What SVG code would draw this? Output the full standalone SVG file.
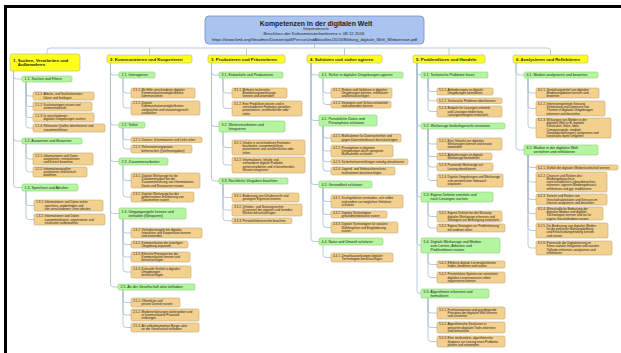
<svg xmlns="http://www.w3.org/2000/svg" width="621" height="353" viewBox="0 0 621 353">
<style>
.h{fill:#ffff1a;stroke:#b8b48c;stroke-width:.6}
.g{fill:#b4f59f;stroke:#8fcf7c;stroke-width:.6}
.l{fill:#f3d08d;stroke:#c2a876;stroke-width:.6}
.t{fill:#a9c4ee;stroke:#6f8fc8;stroke-width:.8}
text{font-family:"Liberation Sans",Arial,sans-serif;fill:#222}
.th{font-size:4.3px;font-weight:bold}
.tg{font-size:3.6px}
.tl{font-size:3.1px}
.tt{font-size:6.9px;font-weight:bold;text-anchor:middle}
.ts{font-size:4.3px;text-anchor:middle}
.c{fill:none;stroke:#a8bcd0;stroke-width:.8}
</style>
<rect width="621" height="353" fill="#fff"/>
<path d="M4,6.5H621M5.5,5V353" stroke="#000" stroke-width="3" fill="none"/>
<g id="connectors">
<path class="c" d="M314.5,44V48M47,55V51q0,-3 3,-3H547.5q3,0 3,3V55M149.5,48V55M246.5,48V55M344.5,48V55M449,48V55"/>
<path class="c" d="M13.5,71V76q0,3 3,3H22M13.5,71V138q0,3 3,3H22M13.5,71V184.5q0,3 3,3H22M26,82V93q0,3 3,3H33M26,82V103.5q0,3 3,3H33M26,82V114.5q0,3 3,3H33M26,82V125q0,3 3,3H33M26,144V156q0,3 3,3H33M26,144V169q0,3 3,3H33M26,191V202.5q0,3 3,3H34M26,191V216.5q0,3 3,3H34"/>
<path class="c" d="M110.5,63V72q0,3 3,3H119M110.5,63V122q0,3 3,3H119M110.5,63V158.5q0,3 3,3H119M110.5,63V210.5q0,3 3,3H119M110.5,63V284q0,3 3,3H118M123,78V90q0,3 3,3H131M123,78V105q0,3 3,3H131M123,128V136.75q0,3 3,3H131M123,128V146q0,3 3,3H131M123,165V177.5q0,3 3,3H131M123,165V194q0,3 3,3H131M123,219V230q0,3 3,3H131M123,219V241.5q0,3 3,3H131M123,219V254q0,3 3,3H131M123,219V269q0,3 3,3H131M123,290V299.5q0,3 3,3H131M123,290V312q0,3 3,3H131M123,290V324.5q0,3 3,3H131"/>
<path class="c" d="M211.5,63V72q0,3 3,3H219M211.5,63V123.5q0,3 3,3H219M211.5,63V178q0,3 3,3H219M223,78V90q0,3 3,3H232M223,78V105.5q0,3 3,3H232M223,132V144.5q0,3 3,3H232M223,132V162q0,3 3,3H232M223,184V194.5q0,3 3,3H232M223,184V207q0,3 3,3H232M223,184V217.75q0,3 3,3H232"/>
<path class="c" d="M311,63V72q0,3 3,3H319M311,63V117.5q0,3 3,3H319M311,63V181.5q0,3 3,3H319M311,63V238.5q0,3 3,3H319M323,78V90q0,3 3,3H331M323,78V101.5q0,3 3,3H331M323,126V135q0,3 3,3H331M323,126V148q0,3 3,3H331M323,126V158.75q0,3 3,3H331M323,126V168q0,3 3,3H331M323,188V198.5q0,3 3,3H331M323,188V211.5q0,3 3,3H331M323,188V224.5q0,3 3,3H331M323,245V254.5q0,3 3,3H331"/>
<path class="c" d="M417,63V72q0,3 3,3H421M417,63V123q0,3 3,3H421M417,63V194q0,3 3,3H421M417,63V242.5q0,3 3,3H421M417,63V290.5q0,3 3,3H421M428,78V88.5q0,3 3,3H437M428,78V97.75q0,3 3,3H437M428,78V108.5q0,3 3,3H437M428,129V141q0,3 3,3H437M428,129V153.5q0,3 3,3H437M428,129V164q0,3 3,3H437M428,129V177.5q0,3 3,3H437M428,202V213.5q0,3 3,3H437M428,202V225q0,3 3,3H437M428,253V261.5q0,3 3,3H437M428,253V274.5q0,3 3,3H437M428,298V310q0,3 3,3H437M428,298V324.5q0,3 3,3H437M428,298V338.5q0,3 3,3H437"/>
<path class="c" d="M516,63V72q0,3 3,3H524M516,63V147q0,3 3,3H524M528,78V90q0,3 3,3H536M528,78V105.5q0,3 3,3H536M528,78V125q0,3 3,3H536M528,155V164.5q0,3 3,3H536M528,155V179q0,3 3,3H536M528,155V196.5q0,3 3,3H536M528,155V210.5q0,3 3,3H536M528,155V227.5q0,3 3,3H536M528,155V245q0,3 3,3H536"/>
</g>
<g id="title">
<rect class="t" x="205" y="16" width="219" height="28" rx="4"/>
<text class="tt" x="316" y="25.5">Kompetenzen in der digitalen Welt</text>
<text x="316" y="30" style="font-size:2.9px;text-anchor:middle">Kompetenzbereiche</text>
<text class="ts" x="314" y="34.6">Beschluss der Kultusministerkonferenz v. 08.12.2016</text>
<text class="ts" x="314.5" y="41">https://www.kmk.org/fileadmin/Dateien/pdf/PresseUndAktuelles/2016/Bildung_digitale_Welt_Webversion.pdf</text>
</g>
<g id="n1"><rect class="h" x="10" y="54" width="70" height="17" rx="2"/><text class="th" y="61.7"><tspan x="13">1. Suchen, Verarbeiten und</tspan><tspan x="17.8" dy="4.6">Aufbewahren</tspan></text></g>
<g id="n1_1"><rect class="g" x="22" y="76" width="50" height="6" rx="1.5"/><text class="tg" x="24.5" y="80.3">1.1. Suchen und Filtern</text></g>
<g id="n1_1_1"><rect class="l" x="33" y="92" width="61" height="8" rx="1.5"/><text class="tl" y="95.45"><tspan x="35">1.1.1. Arbeits- und Suchinteressen</tspan><tspan x="43.6" dy="3.3">klären und festlegen</tspan></text></g>
<g id="n1_1_2"><rect class="l" x="33" y="102" width="59" height="9" rx="1.5"/><text class="tl" y="105.95"><tspan x="35">1.1.2. Suchstrategien nutzen und</tspan><tspan x="43.6" dy="3.3">weiterentwickeln</tspan></text></g>
<g id="n1_1_3"><rect class="l" x="33" y="113" width="61" height="9" rx="1.5"/><text class="tl" y="116.95"><tspan x="35">1.1.3. In verschiedenen</tspan><tspan x="43.6" dy="3.3">digitalen Umgebungen suchen</tspan></text></g>
<g id="n1_1_4"><rect class="l" x="33" y="124" width="72" height="8" rx="1.5"/><text class="tl" y="127.45"><tspan x="35">1.1.4. Relevante Quellen identifizieren und</tspan><tspan x="43.6" dy="3.3">zusammenführen</tspan></text></g>
<g id="n1_2"><rect class="g" x="22" y="138" width="60" height="6" rx="1.5"/><text class="tg" x="24.5" y="142.3">1.2. Auswerten und Bewerten</text></g>
<g id="n1_2_1"><rect class="l" x="33" y="153" width="60" height="12" rx="1.5"/><text class="tl" y="156.8"><tspan x="35">1.2.1. Informationen und Daten</tspan><tspan x="43.6" dy="3.3">analysieren, interpretieren</tspan><tspan x="43.6" dy="3.3">und kritisch bewerten</tspan></text></g>
<g id="n1_2_2"><rect class="l" x="33" y="167" width="54" height="10" rx="1.5"/><text class="tl" y="169.8"><tspan x="35">1.2.2. Informationsquellen</tspan><tspan x="43.6" dy="3.3">analysieren und kritisch</tspan><tspan x="43.6" dy="3.3">bewerten</tspan></text></g>
<g id="n1_3"><rect class="g" x="22" y="184" width="56" height="7" rx="1.5"/><text class="tg" x="24.5" y="188.8">1.3. Speichern und Abrufen</text></g>
<g id="n1_3_1"><rect class="l" x="34" y="200" width="69" height="11" rx="1.5"/><text class="tl" y="203.3"><tspan x="36">1.3.1. Informationen und Daten sicher</tspan><tspan x="44.6" dy="3.3">speichern, wiederfinden und</tspan><tspan x="44.6" dy="3.3">von verschiedenen Orten abrufen</tspan></text></g>
<g id="n1_3_2"><rect class="l" x="34" y="214" width="71" height="11" rx="1.5"/><text class="tl" y="217.3"><tspan x="36">1.3.2. Informationen und Daten</tspan><tspan x="44.6" dy="3.3">zusammenfassen, organisieren und</tspan><tspan x="44.6" dy="3.3">strukturiert aufbewahren</tspan></text></g>

<g id="n2"><rect class="h" x="107" y="55" width="85" height="8" rx="2"/><text class="th" x="110" y="60.5">2. Kommunizieren und Kooperieren</text></g>
<g id="n2_1"><rect class="g" x="119" y="72" width="36" height="6" rx="1.5"/><text class="tg" x="121.5" y="76.3">2.1. Interagieren</text></g>
<g id="n2_1_1"><rect class="l" x="131" y="88" width="64" height="10" rx="1.5"/><text class="tl" y="90.8"><tspan x="133">2.1.1. Mit Hilfe verschiedener digitaler</tspan><tspan x="141.6" dy="3.3">Kommunikationsmöglichkeiten</tspan><tspan x="141.6" dy="3.3">kommunizieren</tspan></text></g>
<g id="n2_1_2"><rect class="l" x="131" y="101" width="69" height="14" rx="1.5"/><text class="tl" y="104.15"><tspan x="133">2.1.2. Digitale</tspan><tspan x="141.6" dy="3.3">Kommunikationsmöglichkeiten</tspan><tspan x="141.6" dy="3.3">zielgerichtet und situationsgerecht</tspan><tspan x="141.6" dy="3.3">auswählen</tspan></text></g>
<g id="n2_2"><rect class="g" x="119" y="122" width="26" height="6" rx="1.5"/><text class="tg" x="121.5" y="126.3">2.2. Teilen</text></g>
<g id="n2_2_1"><rect class="l" x="131" y="137" width="71" height="5.5" rx="1.5"/><text class="tl" x="133" y="140.85">2.2.1. Dateien, Informationen und Links teilen</text></g>
<g id="n2_2_2"><rect class="l" x="131" y="145" width="61" height="8" rx="1.5"/><text class="tl" y="148.45"><tspan x="133">2.2.2. Referenzierungspraxis</tspan><tspan x="141.6" dy="3.3">beherrschen (Quellenangaben)</tspan></text></g>
<g id="n2_3"><rect class="g" x="119" y="158" width="49" height="7" rx="1.5"/><text class="tg" x="121.5" y="162.8">2.3. Zusammenarbeiten</text></g>
<g id="n2_3_1"><rect class="l" x="131" y="173" width="69" height="15" rx="1.5"/><text class="tl" y="176.65"><tspan x="133">2.3.1. Digitale Werkzeuge für die</tspan><tspan x="141.6" dy="3.3">Zusammenarbeit bei der</tspan><tspan x="141.6" dy="3.3">Zusammenführung von Informationen,</tspan><tspan x="141.6" dy="3.3">Daten und Ressourcen nutzen</tspan></text></g>
<g id="n2_3_2"><rect class="l" x="131" y="192" width="63" height="10" rx="1.5"/><text class="tl" y="194.8"><tspan x="133">2.3.2. Digitale Werkzeuge bei der</tspan><tspan x="141.6" dy="3.3">gemeinsamen Erarbeitung von</tspan><tspan x="141.6" dy="3.3">Dokumenten nutzen</tspan></text></g>
<g id="n2_4"><rect class="g" x="119" y="208" width="67" height="11" rx="1.5"/><text class="tg" y="212.85"><tspan x="121.5">2.4. Umgangsregeln kennen und</tspan><tspan x="128.5" dy="3.9">einhalten (Netiquette)</tspan></text></g>
<g id="n2_4_1"><rect class="l" x="131" y="228" width="71" height="10" rx="1.5"/><text class="tl" y="230.8"><tspan x="133">2.4.1. Verhaltensregeln bei digitaler</tspan><tspan x="141.6" dy="3.3">Interaktion und Kooperation kennen</tspan><tspan x="141.6" dy="3.3">und anwenden</tspan></text></g>
<g id="n2_4_2"><rect class="l" x="131" y="241" width="57" height="7" rx="1.5"/><text class="tl" y="243.95"><tspan x="133">2.4.2. Kommunikation der jeweiligen</tspan><tspan x="141.6" dy="3.3">Umgebung anpassen</tspan></text></g>
<g id="n2_4_3"><rect class="l" x="131" y="252" width="59" height="10" rx="1.5"/><text class="tl" y="254.8"><tspan x="133">2.4.3. Ethische Prinzipien bei der</tspan><tspan x="141.6" dy="3.3">Kommunikation kennen und</tspan><tspan x="141.6" dy="3.3">berücksichtigen</tspan></text></g>
<g id="n2_4_4"><rect class="l" x="131" y="266" width="60" height="12" rx="1.5"/><text class="tl" y="269.8"><tspan x="133">2.4.4. Kulturelle Vielfalt in digitalen</tspan><tspan x="141.6" dy="3.3">Umgebungen</tspan><tspan x="141.6" dy="3.3">berücksichtigen</tspan></text></g>
<g id="n2_5"><rect class="g" x="118" y="284" width="77" height="6" rx="1.5"/><text class="tg" x="120.5" y="288.3">2.5. An der Gesellschaft aktiv teilhaben</text></g>
<g id="n2_5_1"><rect class="l" x="131" y="298" width="49" height="9" rx="1.5"/><text class="tl" y="301.95"><tspan x="133">2.5.1. Öffentliche und</tspan><tspan x="141.6" dy="3.3">private Dienste nutzen</tspan></text></g>
<g id="n2_5_2"><rect class="l" x="131" y="309" width="68" height="12" rx="1.5"/><text class="tl" y="312.8"><tspan x="133">2.5.2. Medienerfahrungen weitergeben und</tspan><tspan x="141.6" dy="3.3">in kommunikative Prozesse</tspan><tspan x="141.6" dy="3.3">einbringen</tspan></text></g>
<g id="n2_5_3"><rect class="l" x="131" y="323" width="68" height="9" rx="1.5"/><text class="tl" y="326.95"><tspan x="133">2.5.3. Als selbstbestimmter Bürger aktiv</tspan><tspan x="141.6" dy="3.3">an der Gesellschaft teilhaben</tspan></text></g>

<g id="n3"><rect class="h" x="208" y="55" width="77" height="8" rx="2"/><text class="th" x="211" y="60.5">3. Produzieren und Präsentieren</text></g>
<g id="n3_1"><rect class="g" x="219" y="72" width="64" height="6" rx="1.5"/><text class="tg" x="221.5" y="76.3">3.1. Entwickeln und Produzieren</text></g>
<g id="n3_1_1"><rect class="l" x="232" y="88" width="55" height="10" rx="1.5"/><text class="tl" y="90.8"><tspan x="234">3.1.1. Mehrere technische</tspan><tspan x="242.6" dy="3.3">Bearbeitungswerkzeuge</tspan><tspan x="242.6" dy="3.3">kennen und anwenden</tspan></text></g>
<g id="n3_1_2"><rect class="l" x="232" y="101" width="70" height="15" rx="1.5"/><text class="tl" y="104.65"><tspan x="234">3.1.2. Eine Produktion planen und in</tspan><tspan x="242.6" dy="3.3">verschiedenen Formaten gestalten,</tspan><tspan x="242.6" dy="3.3">präsentieren, veröffentlichen oder</tspan><tspan x="242.6" dy="3.3">teilen</tspan></text></g>
<g id="n3_2"><rect class="g" x="219" y="121" width="66" height="11" rx="1.5"/><text class="tg" y="125.85"><tspan x="221.5">3.2. Weiterverarbeiten und</tspan><tspan x="228.5" dy="3.9">Integrieren</tspan></text></g>
<g id="n3_2_1"><rect class="l" x="232" y="140" width="73" height="15" rx="1.5"/><text class="tl" y="143.65"><tspan x="234">3.2.1. Inhalte in verschiedenen Formaten</tspan><tspan x="242.6" dy="3.3">bearbeiten, zusammenführen,</tspan><tspan x="242.6" dy="3.3">präsentieren und veröffentlichen oder</tspan><tspan x="242.6" dy="3.3">teilen</tspan></text></g>
<g id="n3_2_2"><rect class="l" x="232" y="157" width="73" height="16" rx="1.5"/><text class="tl" y="161.15"><tspan x="234">3.2.2. Informationen, Inhalte und</tspan><tspan x="242.6" dy="3.3">vorhandene digitale Produkte</tspan><tspan x="242.6" dy="3.3">weiterverarbeiten und in bestehendes</tspan><tspan x="242.6" dy="3.3">Wissen integrieren</tspan></text></g>
<g id="n3_3"><rect class="g" x="219" y="178" width="69" height="6" rx="1.5"/><text class="tg" x="221.5" y="182.3">3.3. Rechtliche Vorgaben beachten</text></g>
<g id="n3_3_1"><rect class="l" x="232" y="193" width="67" height="9" rx="1.5"/><text class="tl" y="196.95"><tspan x="234">3.3.1. Bedeutung von Urheberrecht und</tspan><tspan x="242.6" dy="3.3">geistigem Eigentum kennen</tspan></text></g>
<g id="n3_3_2"><rect class="l" x="232" y="204" width="70" height="12" rx="1.5"/><text class="tl" y="207.8"><tspan x="234">3.3.2. Urheber- und Nutzungsrechte</tspan><tspan x="242.6" dy="3.3">(Lizenzen) bei eigenen und fremden</tspan><tspan x="242.6" dy="3.3">Werken berücksichtigen</tspan></text></g>
<g id="n3_3_3"><rect class="l" x="232" y="218" width="60" height="5.5" rx="1.5"/><text class="tl" x="234" y="221.85">3.3.3. Persönlichkeitsrechte beachten</text></g>

<g id="n4"><rect class="h" x="307" y="55" width="75" height="8" rx="2"/><text class="th" x="310" y="60.5">4. Schützen und sicher agieren</text></g>
<g id="n4_1"><rect class="g" x="319" y="72" width="84" height="6" rx="1.5"/><text class="tg" x="321.5" y="76.3">4.1. Sicher in digitalen Umgebungen agieren</text></g>
<g id="n4_1_1"><rect class="l" x="331" y="88" width="61" height="10" rx="1.5"/><text class="tl" y="90.8"><tspan x="333">4.1.1. Risiken und Gefahren in digitalen</tspan><tspan x="341.6" dy="3.3">Umgebungen kennen, reflektieren</tspan><tspan x="341.6" dy="3.3">und berücksichtigen</tspan></text></g>
<g id="n4_1_2"><rect class="l" x="331" y="101" width="60" height="7" rx="1.5"/><text class="tl" y="103.95"><tspan x="333">4.1.2. Strategien zum Schutz entwickeln</tspan><tspan x="341.6" dy="3.3">und anwenden können</tspan></text></g>
<g id="n4_2"><rect class="g" x="319" y="115" width="58" height="11" rx="1.5"/><text class="tg" y="119.85"><tspan x="321.5">4.2. Persönliche Daten und</tspan><tspan x="328.5" dy="3.9">Privatsphäre schützen</tspan></text></g>
<g id="n4_2_1"><rect class="l" x="331" y="134" width="70" height="8" rx="1.5"/><text class="tl" y="137.45"><tspan x="333">4.2.1. Maßnahmen für Datensicherheit und</tspan><tspan x="341.6" dy="3.3">gegen Datenmissbrauch berücksichtigen</tspan></text></g>
<g id="n4_2_2"><rect class="l" x="331" y="145" width="62" height="12" rx="1.5"/><text class="tl" y="148.8"><tspan x="333">4.2.2. Privatsphäre in digitalen</tspan><tspan x="341.6" dy="3.3">Umgebungen durch geeignete</tspan><tspan x="341.6" dy="3.3">Maßnahmen schützen</tspan></text></g>
<g id="n4_2_3"><rect class="l" x="331" y="159" width="77" height="5.5" rx="1.5"/><text class="tl" x="333" y="162.85">4.2.3. Sicherheitseinstellungen ständig aktualisieren</text></g>
<g id="n4_2_4"><rect class="l" x="331" y="167" width="64" height="8" rx="1.5"/><text class="tl" y="170.45"><tspan x="333">4.2.4. Jugend- und Verbraucherschutz-</tspan><tspan x="341.6" dy="3.3">maßnahmen berücksichtigen</tspan></text></g>
<g id="n4_3"><rect class="g" x="319" y="181" width="53" height="7" rx="1.5"/><text class="tg" x="321.5" y="185.8">4.3. Gesundheit schützen</text></g>
<g id="n4_3_1"><rect class="l" x="331" y="195" width="72" height="13" rx="1.5"/><text class="tl" y="199.3"><tspan x="333">4.3.1. Suchtgefahren vermeiden, sich selbst</tspan><tspan x="341.6" dy="3.3">und andere vor möglichen Gefahren</tspan><tspan x="341.6" dy="3.3">schützen</tspan></text></g>
<g id="n4_3_2"><rect class="l" x="331" y="211" width="56" height="7" rx="1.5"/><text class="tl" y="213.95"><tspan x="333">4.3.2. Digitale Technologien</tspan><tspan x="341.6" dy="3.3">gesundheitsbewusst nutzen</tspan></text></g>
<g id="n4_3_3"><rect class="l" x="331" y="222" width="67" height="11" rx="1.5"/><text class="tl" y="225.3"><tspan x="333">4.3.3. Digitale Technologien für soziales</tspan><tspan x="341.6" dy="3.3">Wohlergehen und Eingliederung</tspan><tspan x="341.6" dy="3.3">nutzen</tspan></text></g>
<g id="n4_4"><rect class="g" x="319" y="238" width="64" height="7" rx="1.5"/><text class="tg" x="321.5" y="242.8">4.4. Natur und Umwelt schützen</text></g>
<g id="n4_4_1"><rect class="l" x="331" y="253" width="62" height="9" rx="1.5"/><text class="tl" y="256.95"><tspan x="333">4.4.1. Umweltauswirkungen digitaler</tspan><tspan x="341.6" dy="3.3">Technologien berücksichtigen</tspan></text></g>

<g id="n5"><rect class="h" x="413" y="55" width="72" height="8" rx="2"/><text class="th" x="416" y="60.5">5. Problemlösen und Handeln</text></g>
<g id="n5_1"><rect class="g" x="421" y="72" width="67" height="6" rx="1.5"/><text class="tg" x="423.5" y="76.3">5.1. Technische Probleme lösen</text></g>
<g id="n5_1_1"><rect class="l" x="437" y="88" width="56" height="7" rx="1.5"/><text class="tl" y="90.95"><tspan x="439">5.1.1. Anforderungen an digitale</tspan><tspan x="447.6" dy="3.3">Umgebungen formulieren</tspan></text></g>
<g id="n5_1_2"><rect class="l" x="437" y="98" width="65" height="5.5" rx="1.5"/><text class="tl" x="439" y="101.85">5.1.2. Technische Probleme identifizieren</text></g>
<g id="n5_1_3"><rect class="l" x="437" y="106" width="65" height="11" rx="1.5"/><text class="tl" y="109.3"><tspan x="439">5.1.3. Bedarfe für Lösungen ermitteln</tspan><tspan x="447.6" dy="3.3">und Lösungen finden bzw.</tspan><tspan x="447.6" dy="3.3">Lösungsstrategien entwickeln</tspan></text></g>
<g id="n5_2"><rect class="g" x="421" y="123" width="84" height="6" rx="1.5"/><text class="tg" x="423.5" y="127.3">5.2. Werkzeuge bedarfsgerecht einsetzen</text></g>
<g id="n5_2_1"><rect class="l" x="437" y="138" width="65" height="12" rx="1.5"/><text class="tl" y="141.8"><tspan x="439">5.2.1. Eine Vielzahl von digitalen</tspan><tspan x="447.6" dy="3.3">Werkzeugen kennen und kreativ</tspan><tspan x="447.6" dy="3.3">anwenden</tspan></text></g>
<g id="n5_2_2"><rect class="l" x="437" y="153" width="55" height="7" rx="1.5"/><text class="tl" y="155.95"><tspan x="439">5.2.2. Anforderungen an digitale</tspan><tspan x="447.6" dy="3.3">Werkzeuge formulieren</tspan></text></g>
<g id="n5_2_3"><rect class="l" x="437" y="163" width="56" height="8" rx="1.5"/><text class="tl" y="166.45"><tspan x="439">5.2.3. Passende Werkzeuge zur</tspan><tspan x="447.6" dy="3.3">Lösung identifizieren</tspan></text></g>
<g id="n5_2_4"><rect class="l" x="437" y="174" width="66" height="13" rx="1.5"/><text class="tl" y="178.3"><tspan x="439">5.2.4. Digitale Umgebungen und Werkzeuge</tspan><tspan x="447.6" dy="3.3">zum persönlichen Gebrauch</tspan><tspan x="447.6" dy="3.3">anpassen</tspan></text></g>
<g id="n5_3"><rect class="g" x="421" y="192" width="72" height="10" rx="1.5"/><text class="tg" y="196.35"><tspan x="423.5">5.3. Eigene Defizite ermitteln und</tspan><tspan x="430.5" dy="3.9">nach Lösungen suchen</tspan></text></g>
<g id="n5_3_1"><rect class="l" x="437" y="211" width="65" height="11" rx="1.5"/><text class="tl" y="214.3"><tspan x="439">5.3.1. Eigene Defizite bei der Nutzung</tspan><tspan x="447.6" dy="3.3">digitaler Werkzeuge erkennen und</tspan><tspan x="447.6" dy="3.3">Strategien zur Beseitigung entwickeln</tspan></text></g>
<g id="n5_3_2"><rect class="l" x="437" y="224" width="68" height="8" rx="1.5"/><text class="tl" y="227.45"><tspan x="439">5.3.2. Eigene Strategien zur Problemlösung</tspan><tspan x="447.6" dy="3.3">mit anderen teilen</tspan></text></g>
<g id="n5_4"><rect class="g" x="421" y="238" width="79" height="15" rx="1.5"/><text class="tg" y="242.9"><tspan x="423.5">5.4. Digitale Werkzeuge und Medien</tspan><tspan x="430.5" dy="3.9">zum Lernen, Arbeiten und</tspan><tspan x="430.5" dy="3.9">Problemlösen nutzen</tspan></text></g>
<g id="n5_4_1"><rect class="l" x="437" y="261" width="68" height="7" rx="1.5"/><text class="tl" y="263.95"><tspan x="439">5.4.1. Effektive digitale Lernmöglichkeiten</tspan><tspan x="447.6" dy="3.3">finden, bewerten und nutzen</tspan></text></g>
<g id="n5_4_2"><rect class="l" x="437" y="272" width="68" height="11" rx="1.5"/><text class="tl" y="275.3"><tspan x="439">5.4.2. Persönliches System von vernetzten</tspan><tspan x="447.6" dy="3.3">digitalen Lernressourcen selbst</tspan><tspan x="447.6" dy="3.3">organisieren können</tspan></text></g>
<g id="n5_5"><rect class="g" x="421" y="289" width="68" height="9" rx="1.5"/><text class="tg" y="292.85"><tspan x="423.5">5.5. Algorithmen erkennen und</tspan><tspan x="430.5" dy="3.9">formulieren</tspan></text></g>
<g id="n5_5_1"><rect class="l" x="437" y="307" width="68" height="12" rx="1.5"/><text class="tl" y="310.8"><tspan x="439">5.5.1. Funktionsweisen und grundlegende</tspan><tspan x="447.6" dy="3.3">Prinzipien der digitalen Welt kennen</tspan><tspan x="447.6" dy="3.3">und verstehen</tspan></text></g>
<g id="n5_5_2"><rect class="l" x="437" y="322" width="68" height="11" rx="1.5"/><text class="tl" y="325.3"><tspan x="439">5.5.2. Algorithmische Strukturen in</tspan><tspan x="447.6" dy="3.3">genutzten digitalen Tools erkennen</tspan><tspan x="447.6" dy="3.3">und formulieren</tspan></text></g>
<g id="n5_5_3"><rect class="l" x="437" y="336" width="68" height="11" rx="1.5"/><text class="tl" y="339.3"><tspan x="439">5.5.3. Eine strukturierte, algorithmische</tspan><tspan x="447.6" dy="3.3">Sequenz zur Lösung eines Problems</tspan><tspan x="447.6" dy="3.3">planen und verwenden</tspan></text></g>

<g id="n6"><rect class="h" x="513" y="55" width="75" height="8" rx="2"/><text class="th" x="516" y="60.5">6. Analysieren und Reflektieren</text></g>
<g id="n6_1"><rect class="g" x="524" y="72" width="74" height="6" rx="1.5"/><text class="tg" x="526.5" y="76.3">6.1. Medien analysieren und bewerten</text></g>
<g id="n6_1_1"><rect class="l" x="536" y="88" width="63" height="10" rx="1.5"/><text class="tl" y="90.8"><tspan x="538">6.1.1. Gestaltungsmittel von digitalen</tspan><tspan x="546.6" dy="3.3">Medienangeboten kennen und</tspan><tspan x="546.6" dy="3.3">bewerten</tspan></text></g>
<g id="n6_1_2"><rect class="l" x="536" y="101" width="69" height="15" rx="1.5"/><text class="tl" y="104.65"><tspan x="538">6.1.2. Interessengeleitete Setzung,</tspan><tspan x="546.6" dy="3.3">Verbreitung und Dominanz von</tspan><tspan x="546.6" dy="3.3">Themen in digitalen Umgebungen</tspan><tspan x="546.6" dy="3.3">erkennen und beurteilen</tspan></text></g>
<g id="n6_1_3"><rect class="l" x="536" y="118" width="75" height="20" rx="1.5"/><text class="tl" y="120.85"><tspan x="538">6.1.3. Wirkungen von Medien in der</tspan><tspan x="546.6" dy="3.3">digitalen Welt (z.B. mediale</tspan><tspan x="546.6" dy="3.3">Konstrukte, Stars, Idole,</tspan><tspan x="546.6" dy="3.3">Computerspiele, mediale</tspan><tspan x="546.6" dy="3.3">Gewaltdarstellungen) analysieren und</tspan><tspan x="546.6" dy="3.3">konstruktiv damit umgehen</tspan></text></g>
<g id="n6_2"><rect class="g" x="524" y="145" width="74" height="10" rx="1.5"/><text class="tg" y="149.35"><tspan x="526.5">6.2. Medien in der digitalen Welt</tspan><tspan x="533.5" dy="3.9">verstehen und reflektieren</tspan></text></g>
<g id="n6_2_1"><rect class="l" x="536" y="165" width="82" height="5" rx="1.5"/><text class="tl" x="538" y="168.6">6.2.1. Vielfalt der digitalen Medienlandschaft kennen</text></g>
<g id="n6_2_2"><rect class="l" x="536" y="172" width="71" height="20" rx="1.5"/><text class="tl" y="176.5"><tspan x="538">6.2.2. Chancen und Risiken des</tspan><tspan x="546.6" dy="3.3">Mediengebrauchs in</tspan><tspan x="546.6" dy="3.3">unterschiedlichen Lebensbereichen</tspan><tspan x="546.6" dy="3.3">erkennen, eigenen Mediengebrauch</tspan><tspan x="546.6" dy="3.3">reflektieren und ggf. modifizieren</tspan></text></g>
<g id="n6_2_3"><rect class="l" x="536" y="194" width="71" height="11" rx="1.5"/><text class="tl" y="197.3"><tspan x="538">6.2.3. Vorteile und Risiken von</tspan><tspan x="546.6" dy="3.3">Geschäftsaktivitäten und Services im</tspan><tspan x="546.6" dy="3.3">Internet analysieren und beurteilen</tspan></text></g>
<g id="n6_2_4"><rect class="l" x="536" y="207" width="67" height="13" rx="1.5"/><text class="tl" y="209.65"><tspan x="538">6.2.4. Wirtschaftliche Bedeutung der</tspan><tspan x="546.6" dy="3.3">digitalen Medien und digitaler</tspan><tspan x="546.6" dy="3.3">Technologien kennen und sie für</tspan><tspan x="546.6" dy="3.3">eigene Geschäftsideen nutzen</tspan></text></g>
<g id="n6_2_5"><rect class="l" x="536" y="223" width="72" height="15" rx="1.5"/><text class="tl" y="226.65"><tspan x="538">6.2.5. Die Bedeutung von digitalen Medien</tspan><tspan x="546.6" dy="3.3">für die politische Meinungsbildung</tspan><tspan x="546.6" dy="3.3">und Entscheidungsfindung kennen</tspan><tspan x="546.6" dy="3.3">und nutzen</tspan></text></g>
<g id="n6_2_6"><rect class="l" x="536" y="241" width="76" height="14" rx="1.5"/><text class="tl" y="244.15"><tspan x="538">6.2.6. Potenziale der Digitalisierung im</tspan><tspan x="546.6" dy="3.3">Sinne sozialer Integration und sozialer</tspan><tspan x="546.6" dy="3.3">Teilhabe erkennen, analysieren und</tspan><tspan x="546.6" dy="3.3">reflektieren</tspan></text></g>
</svg>
